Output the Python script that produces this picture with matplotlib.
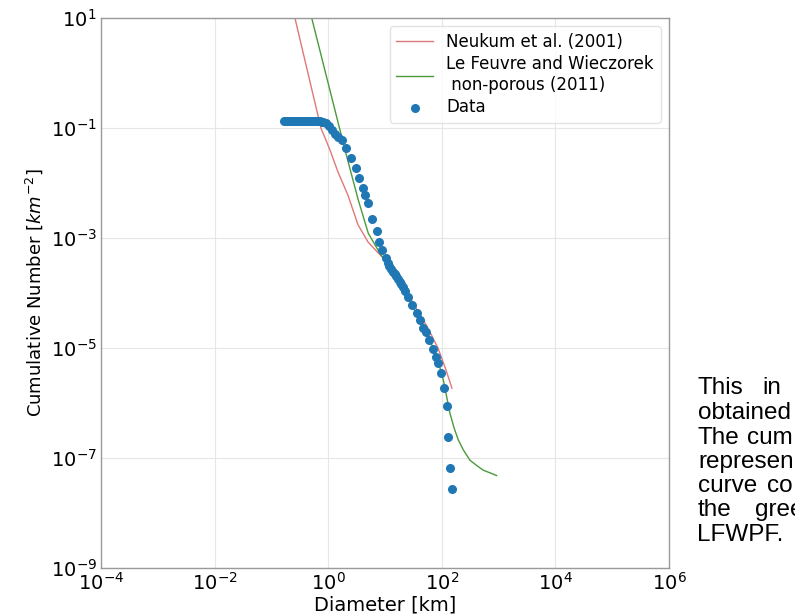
import matplotlib
matplotlib.use("Agg")
import matplotlib.pyplot as plt
from matplotlib import font_manager

# Data (diameter in km, cumulative number per km^2)
data_d = [0.17, 0.18, 0.19, 0.20, 0.21, 0.22, 0.235, 0.25, 0.27, 0.29, 0.31, 0.33,
          0.35, 0.37, 0.40, 0.43, 0.46, 0.49, 0.52, 0.56, 0.60, 0.64, 0.68, 0.73,
          0.78, 0.81, 0.91, 1.03, 1.15, 1.32, 1.49, 1.73, 2.06, 2.49, 3.05, 3.53,
          4.05, 4.50, 5.08, 5.97, 7.14, 7.94, 8.95, 10.3, 11.2, 12.0, 12.9, 13.8,
          14.8, 15.8, 17.0, 18.2, 19.5, 20.7, 22.9, 25.7, 29.5, 36.1, 41.3, 47.2,
          52.7, 59.6, 70.8, 79.1, 86.7, 96.8, 110.7, 121.9, 130.0, 139.3, 149.3]
data_n = [0.136, 0.136, 0.136, 0.136, 0.136, 0.136, 0.136, 0.136, 0.136, 0.136, 0.136, 0.136,
          0.136, 0.136, 0.136, 0.136, 0.136, 0.136, 0.136, 0.135, 0.135, 0.135, 0.134, 0.133,
          0.131, 0.128, 0.123, 0.109, 0.092, 0.078, 0.069, 0.0605, 0.0432, 0.0285, 0.0188, 0.0123,
          0.0082, 0.00605, 0.00432, 0.00221, 0.00136, 8.57e-4, 6.05e-4, 4.28e-4, 3.47e-4, 3.09e-4, 2.75e-4, 2.45e-4,
          2.24e-4, 2.0e-4, 1.78e-4, 1.58e-4, 1.45e-4, 1.30e-4, 1.07e-4, 8.6e-5, 6.05e-5, 4.28e-5, 3.23e-5, 2.28e-5,
          1.95e-5, 1.40e-5, 9.5e-6, 6.95e-6, 5.27e-6, 3.47e-6, 1.87e-6, 8.9e-7, 2.38e-7, 6.5e-8, 2.7e-8]

neukum_d = [0.2, 0.26, 0.44, 0.746, 1.076, 1.49, 2.23, 3.35, 5.02, 7.53, 11.3,
            20.7, 38.1, 57.1, 85.7, 118.6, 151]
neukum_n = [31, 10, 1.0, 0.1, 0.0398, 0.0158, 6.0e-3, 1.74e-3, 8.5e-4, 5.4e-4, 3.55e-4,
            1.35e-4, 4.7e-5, 2.3e-5, 1.0e-5, 4.0e-6, 1.86e-6]

lfw_d = [0.355, 0.513, 1.0, 1.98, 3.39, 5.08, 8.17, 13.1, 20.7, 38.0, 61.7, 85.1,
         106.4, 139.3, 165, 195, 240, 313, 420, 537, 700, 925]
lfw_n = [42, 10, 0.65, 0.0398, 4.9e-3, 1.22e-3, 5.25e-4, 2.63e-4, 1.26e-4, 3.8e-5, 1.41e-5, 6.0e-6,
         2.63e-6, 6.5e-7, 3.5e-7, 2.14e-7, 1.4e-7, 9.1e-8, 7.2e-8, 6.0e-8, 5.4e-8, 4.8e-8]

x_ticks = [1e-4, 1e-2, 1e0, 1e2, 1e4, 1e6]
y_ticks = [1e1, 1e-1, 1e-3, 1e-5, 1e-7, 1e-9]

# regular (not narrow) Liberation Sans for the page text
body_font = None
for f in font_manager.fontManager.ttflist:
    if f.name == 'Liberation Sans' and f.style == 'normal' and f.weight in (400, 'normal') \
            and 'Narrow' not in f.fname:
        body_font = font_manager.FontProperties(fname=f.fname, size=17.5)
        break
if body_font is None:
    body_font = font_manager.FontProperties(family='DejaVu Sans', size=16)

fig = plt.figure(figsize=(7.95, 6.15), dpi=100)
ax = fig.add_axes([0.127, 0.0764, 0.7145, 0.8943])

ax.plot(neukum_d, neukum_n, color='#e07878', lw=1.0, label='Neukum et al. (2001)')
ax.plot(lfw_d, lfw_n, color='#4a9a3a', lw=1.0, label='Le Feuvre and Wieczorek\n non-porous (2011)')
ax.scatter(data_d, data_n, s=30, color='#1f77b4', zorder=3, label='Data')

ax.set_xscale('log')
ax.set_yscale('log')
ax.set_xlim(1e-4, 1e6)
ax.set_ylim(1e-9, 1e1)
ax.set_xticks(x_ticks)
ax.set_yticks(y_ticks)
ax.minorticks_off()
ax.tick_params(length=0, pad=3, labelsize=14)
ax.grid(True, color='#e6e6e6', lw=0.8)
ax.set_axisbelow(True)
for sp in ax.spines.values():
    sp.set_color('#999999')
    sp.set_linewidth(1.0)

ax.set_xlabel('Diameter [km]', fontsize=14, labelpad=1)
ax.set_ylabel('Cumulative Number [$km^{-2}$]', fontsize=13, labelpad=4)

leg = ax.legend(loc='upper right', fontsize=12, frameon=True, borderaxespad=0.5,
                handlelength=2.2, labelspacing=0.25, borderpad=0.4)
leg.get_frame().set_edgecolor('#dddddd')

# Text of the page next to the figure (clipped at the right border)
words = [
    (698, 388, 'This'), (762, 388, 'in'),
    (698, 413, 'obtained'),
    (698, 438, 'The'), (747, 438, 'cum'),
    (698, 462, 'represen'),
    (698, 486, 'curve'), (767, 486, 'co'),
    (698, 510, 'the'), (755, 510, 'gree'),
    (697, 535, 'LFWPF.'),
]
for px, py, w in words:
    fig.text(px / 795, 1 - py / 615, w, fontproperties=body_font,
             va='center', ha='left')

fig.savefig('out.png', dpi=100)
